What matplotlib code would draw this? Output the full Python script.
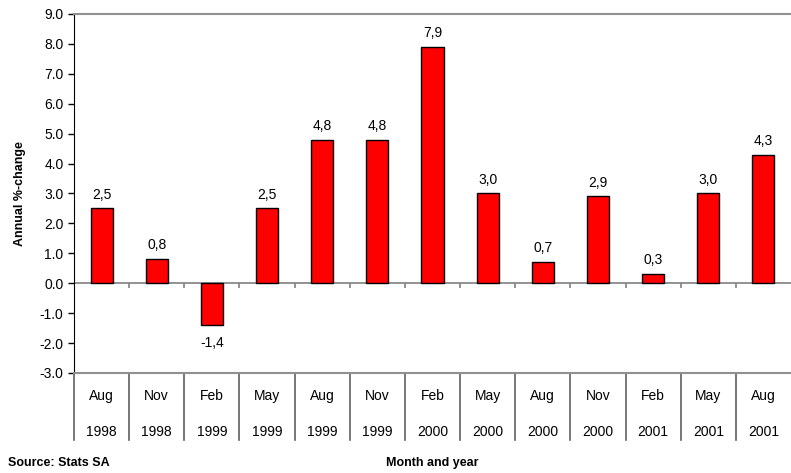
import numpy as np
from matplotlib import pyplot as plt
from matplotlib import transforms

months = ['Aug', 'Nov', 'Feb', 'May', 'Aug', 'Nov', 'Feb',
          'May', 'Aug', 'Nov', 'Feb', 'May', 'Aug']
years = ['1998', '1998', '1999', '1999', '1999', '1999', '2000',
         '2000', '2000', '2000', '2001', '2001', '2001']
values = [2.5, 0.8, -1.4, 2.5, 4.8, 4.8, 7.9, 3.0, 0.7, 2.9, 0.3, 3.0, 4.3]

plt.rcParams['font.family'] = ['Liberation Sans', 'DejaVu Sans']

fig = plt.figure(figsize=(7.91, 4.73), dpi=100)
ax = fig.add_axes([74 / 791, 100 / 473, 1 - 74 / 791, 359 / 473])

n = len(values)
x = np.arange(n)
ax.bar(x, values, width=0.4, color='#ff0000', edgecolor='black',
       linewidth=1.0, zorder=3)

for xi, v in zip(x, values):
    label = '{:.1f}'.format(v).replace('.', ',')
    if v >= 0:
        ax.annotate(label, (xi, v), xytext=(0, 5), textcoords='offset points',
                    ha='center', va='bottom', fontsize=10)
    else:
        ax.annotate(label, (xi, v), xytext=(0, -8), textcoords='offset points',
                    ha='center', va='top', fontsize=10)

ax.set_xlim(-0.5, n - 0.5)
ax.set_ylim(-3, 9)
ax.set_yticks(np.arange(-3, 10, 1))
ax.set_yticklabels(['{:.1f}'.format(t) for t in np.arange(-3, 10, 1)],
                   fontsize=10)
ax.tick_params(axis='y', direction='out', length=4, width=1, colors='black')
ax.set_xticks([])

# zero line with small ticks at category boundaries
ax.axhline(0, color='#808080', linewidth=1.2, zorder=2)
bounds = np.arange(n + 1) - 0.5
ax.vlines(bounds[1:-1], -0.15, 0, color='#808080', linewidth=1.2, zorder=2)

ax.spines['right'].set_visible(False)
ax.spines['top'].set_color('#909090')
ax.spines['bottom'].set_color('#909090')
ax.spines['top'].set_linewidth(1.5)
ax.spines['bottom'].set_linewidth(1.5)
ax.spines['left'].set_color('black')

# category table below the axis
trans = transforms.blended_transform_factory(ax.transData, ax.transAxes)
table_bottom = -67 / 359
for b in bounds[:-1]:
    ax.plot([b, b], [0, table_bottom], transform=trans, color='#606060',
            linewidth=1.2, clip_on=False)
for xi, m, yr in zip(x, months, years):
    ax.text(xi, -23 / 359, m, transform=trans, ha='center', va='center',
            fontsize=10)
    ax.text(xi, -59 / 359, yr, transform=trans, ha='center', va='center',
            fontsize=10)

ax.set_ylabel('Annual %-change', fontsize=9, fontweight='bold', labelpad=10)
fig.text((74 + 791) / 2 / 791, 10 / 473, 'Month and year', ha='center',
         va='center', fontsize=9, fontweight='bold')
fig.text(8 / 791, 10 / 473, 'Source: Stats SA', ha='left', va='center',
         fontsize=9, fontweight='bold')

fig.savefig('out.png', dpi=100)
